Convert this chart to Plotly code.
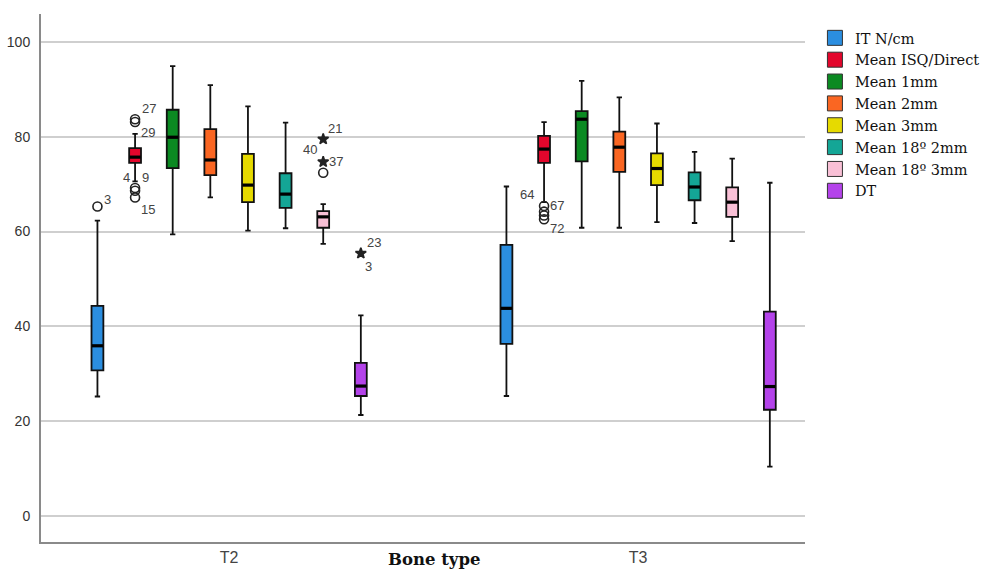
import plotly.graph_objects as go

groups = ["T2", "T3"]
series = ["IT N/cm", "Mean ISQ/Direct", "Mean 1mm", "Mean 2mm", "Mean 3mm",
          "Mean 18º 2mm", "Mean 18º 3mm", "DT"]
colors = ["#2b8ee0", "#e3062c", "#0b8a22", "#fa6622", "#e6da00",
          "#14a696", "#f9c0d6", "#b443ea"]

# per series: [T2, T3]
lower = [[25.2, 25.3], [70.6, 66.2], [59.4, 60.8], [67.2, 60.8], [60.2, 62.0],
         [60.7, 61.8], [57.4, 58.0], [21.3, 10.4]]
q1 = [[30.7, 36.3], [74.5, 74.5], [73.4, 74.8], [71.9, 72.6], [66.2, 69.8],
      [65.0, 66.6], [60.8, 63.1], [25.3, 22.4]]
median = [[35.9, 43.8], [75.7, 77.4], [79.9, 83.7], [75.1, 77.8], [69.8, 73.3],
          [67.9, 69.4], [63.1, 66.2], [27.4, 27.3]]
q3 = [[44.3, 57.2], [77.6, 80.2], [85.7, 85.4], [81.6, 81.1], [76.4, 76.5],
      [72.3, 72.5], [64.3, 69.3], [32.3, 43.1]]
upper = [[62.3, 69.5], [80.6, 83.1], [94.9, 91.8], [90.9, 88.3], [86.4, 82.8],
         [83.0, 76.8], [65.8, 75.4], [42.3, 70.3]]

# outliers: (group index, series index, value, symbol)
out_group = [0, 0, 0, 0, 0, 0, 0, 0, 0, 0, 1, 1, 1, 1]
out_series = [0, 1, 1, 1, 1, 1, 6, 6, 6, 7, 1, 1, 1, 1]
out_value = [65.3, 83.7, 83.1, 69.2, 68.6, 67.2, 72.4, 74.7, 79.5, 55.4, 65.4, 64.2, 63.4, 62.6]
out_symbol = ["circle-open", "circle-open", "circle-open", "circle-open", "circle-open",
              "circle-open", "circle-open", "star", "star", "star",
              "circle-open", "circle-open", "circle-open", "circle-open"]

# case labels: (group, series, value, text, xshift, yshift)
lab_group = [0, 0, 0, 0, 0, 0, 0, 0, 0, 0, 0, 1, 1, 1]
lab_series = [0, 1, 1, 1, 1, 1, 6, 6, 6, 7, 7, 1, 1, 1]
lab_value = [65.3, 83.5, 80.6, 69.2, 69.2, 67.2, 79.5, 79.5, 74.7, 55.4, 55.4, 65.4, 65.4, 62.6]
lab_text = ["3", "27", "29", "4", "9", "15", "21", "40", "37", "23", "3", "64", "67", "72"]
lab_dx = [10, 14, 13, -9, 10, 13, 12, -13, 13, 13, 8, -17, 13, 13]
lab_dy = [7, 12, 1, 10, 10, -12, 11, -10, 0, 11, -13, 11, 0, -9]

STEP = 0.092
def pos(g, s):
    return g + (s - 3.5) * STEP

fig = go.Figure()
for s, name in enumerate(series):
    fig.add_trace(go.Box(
        x=[pos(g, s) for g in range(len(groups))],
        q1=q1[s], median=median[s], q3=q3[s],
        lowerfence=lower[s], upperfence=upper[s],
        width=0.029, whiskerwidth=0.45,
        fillcolor=colors[s],
        line=dict(color="#111111", width=1.8),
        boxpoints=False, showlegend=False, hoverinfo="skip", name=name))
    # thicker median bar
    for g in range(len(groups)):
        fig.add_trace(go.Scatter(
            x=[pos(g, s) - 0.0135, pos(g, s) + 0.0135],
            y=[median[s][g], median[s][g]],
            mode="lines", line=dict(color="black", width=3.2),
            showlegend=False, hoverinfo="skip"))

for g, s, v, sym in zip(out_group, out_series, out_value, out_symbol):
    fig.add_trace(go.Scatter(
        x=[pos(g, s)], y=[v], mode="markers",
        marker=dict(symbol=sym, size=9 if sym == "circle-open" else 8,
                    color="#222222", line=dict(width=1.6, color="#222222")),
        showlegend=False, hoverinfo="skip"))

for g, s, v, t, dx, dy in zip(lab_group, lab_series, lab_value, lab_text, lab_dx, lab_dy):
    fig.add_annotation(x=pos(g, s), y=v, text=t, showarrow=False,
                       xshift=dx, yshift=dy,
                       font=dict(family="Liberation Sans, Arial", size=13, color="#444444"))

# legend entries
for s, name in enumerate(series):
    fig.add_trace(go.Scatter(
        x=[None], y=[None], mode="markers", name=name,
        marker=dict(symbol="square", size=15, color=colors[s],
                    line=dict(color="#333333", width=1))))

fig.add_annotation(x=0.5, xref="x", y=-0.034, yref="paper", yanchor="middle",
                   text="<b>Bone type</b>", showarrow=False,
                   font=dict(family="DejaVu Serif", size=16.5, color="#111111"))

fig.update_layout(
    width=993, height=574,
    margin=dict(l=41, r=188, t=14, b=32, autoexpand=False),
    paper_bgcolor="white", plot_bgcolor="white",
    boxmode="overlay",
    xaxis=dict(range=[-0.46, 1.408], tickvals=[0, 1], ticktext=groups,
               showgrid=False, zeroline=False, showline=True, automargin=False,
               linecolor="#8a8a8a", linewidth=2, ticks="",
               tickfont=dict(family="Liberation Sans, Arial", size=16, color="#444444")),
    yaxis=dict(range=[-5.5, 105.9], tickvals=[0, 20, 40, 60, 80, 100],
               showgrid=True, gridcolor="#cfcfcf", gridwidth=1.5, automargin=False,
               zeroline=False, showline=True, linecolor="#8a8a8a", linewidth=2,
               ticks="", ticklabelstandoff=6,
               tickfont=dict(family="Liberation Sans, Arial", size=14, color="#333333")),
    legend=dict(x=1.013, y=0.985, xanchor="left", yanchor="top",
                font=dict(family="DejaVu Serif", size=14.5, color="#111111"),
                tracegroupgap=0, itemwidth=30, bgcolor="rgba(0,0,0,0)"),
    showlegend=True,
)

fig.write_html("out.html", config={"displayModeBar": False},
               post_script="document.body.style.margin='0px';document.body.style.overflow='hidden';")
